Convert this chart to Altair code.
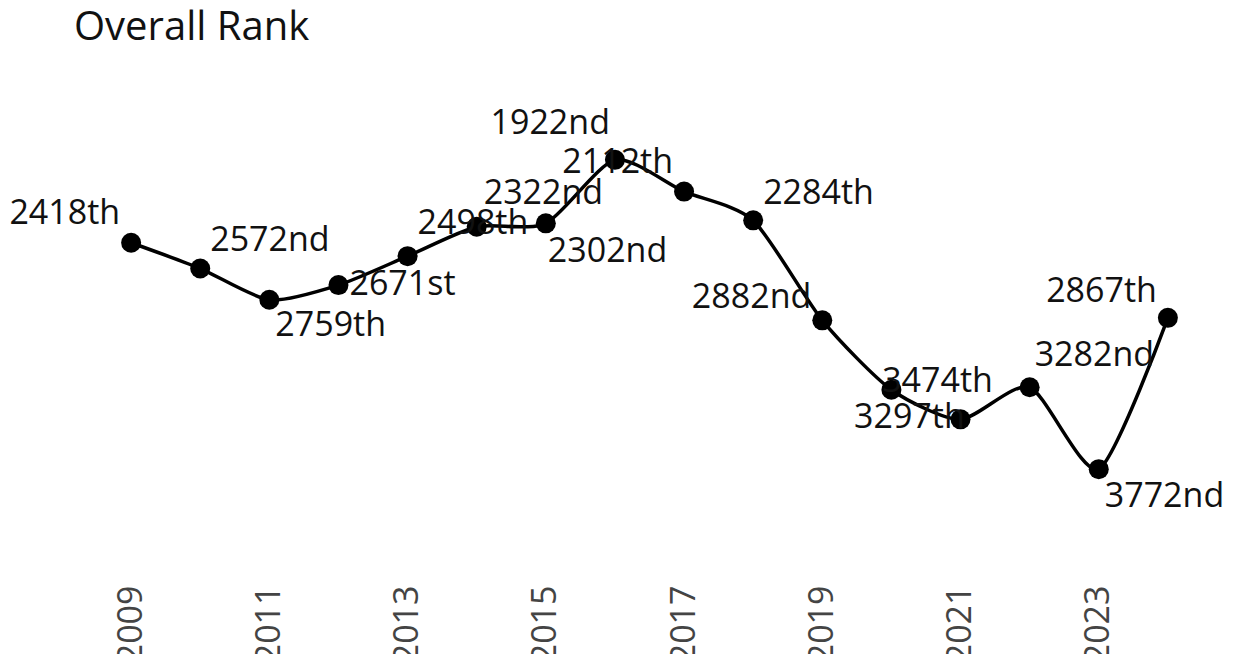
import altair as alt
import pandas as pd

years = list(range(2009, 2025))
ranks = [2418, 2572, 2759, 2671, 2498, 2322, 2302, 1922, 2112, 2284, 2882, 3297, 3474, 3282, 3772, 2867]
labels = ["2418th", "2572nd", "2759th", "2671st", "2498th", "2322nd", "2302nd", "1922nd",
          "2112th", "2284th", "2882nd", "3297th", "3474th", "3282nd", "3772nd", "2867th"]
tick_years = [2009, 2011, 2013, 2015, 2017, 2019, 2021, 2023]
title_text = ["Overall Rank"]

# label placement (pixel offsets from the point, and text alignment)
label_dx = [-11, 10, 6, 11, 10, 7, 2, -5, -11, 10, -11, 18, -23, 5, 6, -11]
label_dy = [-29, -28, 26, 0, -32, -33, 29, -36, -29, -26, -22, 28, -37, -31, 28, -26]
label_align = ["right", "left", "left", "left", "left", "left", "left", "right",
               "right", "left", "right", "center", "center", "left", "left", "right"]

W, H = 1175, 418
x_dom = [2008, 2025]
y_dom = [1600, 4100]
px_year = W / (x_dom[1] - x_dom[0])
px_rank = H / (y_dom[1] - y_dom[0])

df = pd.DataFrame({"year": years, "rank": ranks, "label": labels,
                   "align": label_align})
df["lx"] = [y + dx / px_year for y, dx in zip(years, label_dx)]
df["ly"] = [r + dy / px_rank for r, dy in zip(ranks, label_dy)]

xs = alt.Scale(domain=x_dom, nice=False, zero=False)
ys = alt.Scale(domain=y_dom, reverse=True, nice=False, zero=False)

base = alt.Chart(df)

line = base.mark_line(color="black", strokeWidth=3.5, interpolate="cardinal", tension=0.3).encode(
    x=alt.X("year:Q", scale=xs,
            axis=alt.Axis(values=tick_years, format="d", title=None, domain=False,
                          ticks=False, grid=False, labelAngle=-90, labelPadding=61,
                          labelFontSize=34, labelColor="#444", labelFont="Open Sans")),
    y=alt.Y("rank:Q", scale=ys, axis=None),
)
pts = base.mark_circle(color="black", opacity=1, size=400).encode(
    x=alt.X("year:Q", scale=xs), y=alt.Y("rank:Q", scale=ys))

texts = []
for a in ["left", "right", "center"]:
    texts.append(
        base.transform_filter(alt.datum.align == a).mark_text(
            align=a, baseline="middle", font="Open Sans", fontSize=34, color="#111"
        ).encode(x=alt.X("lx:Q", scale=xs), y=alt.Y("ly:Q", scale=ys), text="label:N")
    )

title = alt.Chart(pd.DataFrame({"t": title_text})).mark_text(
    align="left", baseline="alphabetic", font="Open Sans", fontSize=40, color="#111"
).encode(x=alt.value(12), y=alt.value(-66), text="t:N")

chart = alt.layer(line, pts, *texts, title).properties(
    width=W, height=H,
    autosize=alt.AutoSizeParams(type="none"),
    padding={"left": 54, "top": 98, "right": 1, "bottom": 130},
).configure_view(stroke=None)

chart.save("out.html", embed_options={"renderer": "svg", "actions": False})
